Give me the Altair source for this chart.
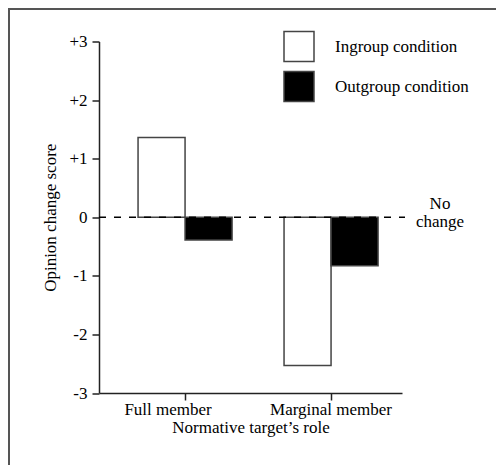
import altair as alt
import pandas as pd

roles = ["Full member", "Full member", "Marginal member", "Marginal member"]
conditions = ["Ingroup condition", "Outgroup condition", "Ingroup condition", "Outgroup condition"]
scores = [1.36, -0.39, -2.53, -0.83]
y_ticks = [-3, -2, -1, 0, 1, 2, 3]

df = pd.DataFrame({"role": roles, "condition": conditions, "score": scores})

FONT = "Liberation Serif, Times New Roman, DejaVu Serif, serif"
FS = 17

x_enc = alt.X(
    "role:N",
    sort=["Full member", "Marginal member"],
    scale=alt.Scale(paddingInner=0.356, paddingOuter=0.2157, align=0.62),
    axis=alt.Axis(
        title="Normative target\u2019s role",
        labelAngle=0,
        labelFont=FONT, labelFontSize=FS, labelColor="black",
        titleFont=FONT, titleFontSize=FS, titleFontWeight="normal", titleColor="black",
        tickSize=7, tickColor="#222", tickWidth=1.5,
        domainColor="#222", domainWidth=1.5,
        labelPadding=1, titlePadding=2,
        labelOffset={"condition": {"test": "datum.value === 'Full member'", "value": -17}, "value": 0},
    ),
)

y_scale = alt.Scale(domain=[-3, 3], nice=False, zero=False)

bars = alt.Chart(df).mark_bar(stroke="#444", strokeWidth=1.5).encode(
    x=x_enc,
    xOffset=alt.XOffset("condition:N", scale=alt.Scale(paddingInner=0, paddingOuter=0)),
    y=alt.Y(
        "score:Q",
        scale=y_scale,
        axis=alt.Axis(
            title="Opinion change score",
            values=y_ticks,
            labelExpr="datum.value > 0 ? '+' + datum.value : '' + datum.value",
            grid=False,
            labelFont=FONT, labelFontSize=FS, labelColor="black",
            titleFont=FONT, titleFontSize=FS, titleFontWeight="normal", titleColor="black",
            tickSize=7, tickColor="#222", tickWidth=1.5,
            domainColor="#222", domainWidth=1.5,
            labelPadding=5, titlePadding=9,
        ),
    ),
    fill=alt.Fill(
        "condition:N",
        scale=alt.Scale(domain=["Ingroup condition", "Outgroup condition"], range=["white", "black"]),
        legend=alt.Legend(
            title=None,
            orient="none",
            legendX=184,
            legendY=-11,
            padding=0,
            symbolType="square",
            symbolSize=900,
            symbolStrokeColor="#444",
            symbolStrokeWidth=1.5,
            labelFont=FONT,
            labelFontSize=FS,
            labelColor="black",
            labelOffset=20,
            rowPadding=4,
            labelLimit=300,
        ),
    ),
)

zero_line = alt.Chart(pd.DataFrame({"y": [0]})).mark_rule(
    color="black", strokeWidth=1.5, strokeDash=[7, 8]
).encode(y=alt.Y("y:Q", scale=y_scale), x=alt.value(0), x2=alt.value(306))

no_change = alt.Chart(pd.DataFrame({"y": [0], "t": ["No\nchange"]})).mark_text(
    font=FONT, fontSize=FS, color="black", align="center", baseline="middle",
    lineBreak="\n", lineHeight=18, dy=-13
).encode(y=alt.Y("y:Q", scale=y_scale), x=alt.value(341), text="t:N")

top_border = alt.Chart(pd.DataFrame({"a": [0]})).mark_rule(color="#555", strokeWidth=2).encode(
    x=alt.value(-91), x2=alt.value(397), y=alt.value(-32.5)
)
left_border = alt.Chart(pd.DataFrame({"a": [0]})).mark_rule(color="#555", strokeWidth=2).encode(
    x=alt.value(-90), y=alt.value(-33.5), y2=alt.value(423.5)
)

chart = alt.layer(bars, zero_line, no_change, top_border, left_border).properties(
    width=303,
    height=351.5,
    background="white",
    autosize=alt.AutoSizeParams(type="none"),
    padding={"left": 91, "top": 33.5, "right": 94, "bottom": 72},
).configure_view(stroke=None)

chart.save("out.html", embed_options={"renderer": "svg", "actions": False})
